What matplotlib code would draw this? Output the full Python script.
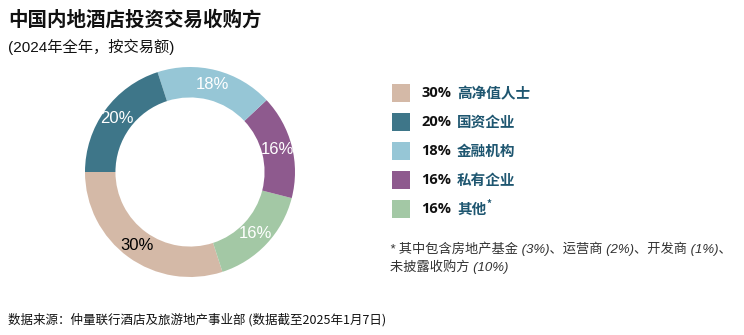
import matplotlib.pyplot as plt
from matplotlib.patches import Rectangle

# data
shares = [30, 16, 16, 18, 20]
names = ['高净值人士', '其他', '私有企业', '金融机构', '国资企业']
colors = ['#D4B9A7', '#A3C8A5', '#8E5A8E', '#96C6D6', '#3E7689']
label_colors = ['black', 'white', 'white', 'white', 'white']

# legend order (top to bottom)
legend_order = [0, 4, 3, 2, 1]

W, H = 744, 335
fig = plt.figure(figsize=(W / 100, H / 100), dpi=100)

def fx(x):
    return x / W

def fy(y):
    return 1 - y / H

cjk = ['Noto Sans CJK SC', 'DejaVu Sans']

# donut
cx, cy, r = 190, 172, 105
ax = fig.add_axes([fx(cx - r), fy(cy + r), 2 * r / W, 2 * r / H])
wedges, texts = ax.pie(shares, colors=colors, startangle=180, counterclock=True,
                       radius=1, labels=[f'{s}%' for s in shares],
                       labeldistance=0.86,
                       wedgeprops=dict(width=0.29, edgecolor='none'),
                       textprops=dict(fontsize=12, family=['Liberation Sans']))
for t, c in zip(texts, label_colors):
    t.set_color(c)
    t.set_ha('center')
    t.set_va('center')
ax.set_xlim(-1, 1)
ax.set_ylim(-1, 1)
ax.set_aspect('equal')
ax.axis('off')

# title
fig.text(fx(8), fy(20), '中国内地酒店投资交易收购方', fontsize=14, fontweight='bold',
         family=cjk, va='center', ha='left', color='#111111')
fig.text(fx(8), fy(47), '(2024年全年，按交易额)', fontsize=11,
         family=['Liberation Sans', 'Noto Sans CJK SC'], va='center', ha='left', color='#111111')

# legend
rows = [93, 122, 151, 180, 209]
for y, i in zip(rows, legend_order):
    fig.patches.append(Rectangle((fx(392), fy(y + 9)), 18 / W, 18 / H,
                                 transform=fig.transFigure, facecolor=colors[i],
                                 edgecolor='none'))
    fig.text(fx(421), fy(y), f'{shares[i]}%', fontsize=10.5, fontweight='bold',
             family=['Open Sans', 'Noto Sans CJK SC'], va='center', ha='left', color='#111111')
    nm = names[i]
    fig.text(fx(457), fy(y), nm, fontsize=10.5, fontweight='bold',
             family=cjk, va='center', ha='left', color='#1E5670')
    if nm == '其他':
        fig.text(fx(487), fy(y - 5), '*', fontsize=7, fontweight='bold',
                 family=cjk, va='center', ha='left', color='#1E5670')

# footnote
note_font = ['Liberation Sans', 'Noto Sans CJK SC']
fig.text(fx(390), fy(249), '* 其中包含房地产基金 (3%)、运营商 (2%)、开发商 (1%)、',
         fontsize=9.5, style='italic', family=note_font, va='center', ha='left', color='#333333')
fig.text(fx(390), fy(267), '未披露收购方 (10%)',
         fontsize=9.5, style='italic', family=note_font, va='center', ha='left', color='#333333')

# source
fig.text(fx(8), fy(320), '数据来源：仲量联行酒店及旅游地产事业部 (数据截至2025年1月7日)',
         fontsize=9, family=['Noto Sans CJK SC', 'DejaVu Sans'], va='center', ha='left',
         color='#111111')

fig.savefig('out.png', dpi=100)
